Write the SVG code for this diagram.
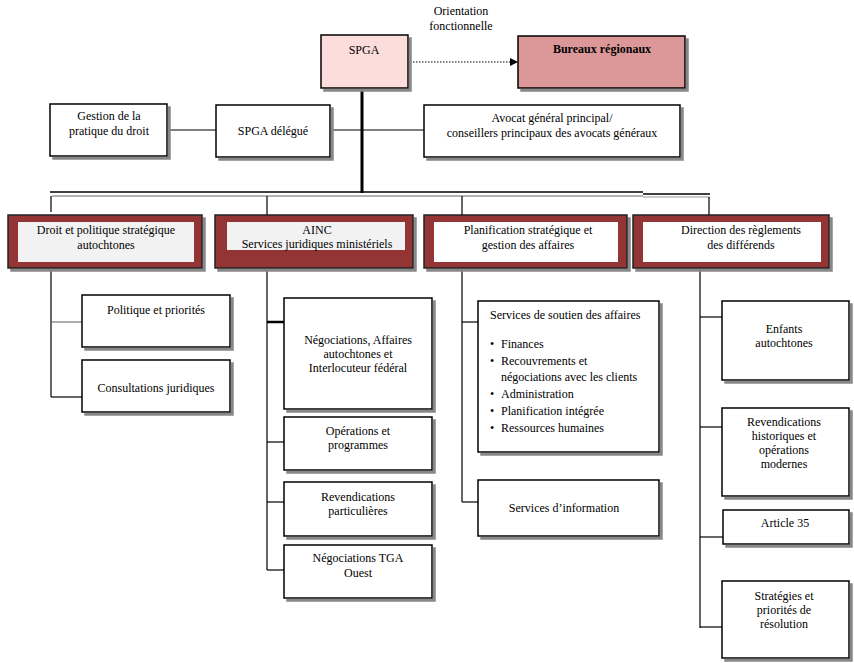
<svg xmlns="http://www.w3.org/2000/svg" width="854" height="663" viewBox="0 0 854 663">
<defs>
<marker id="ar" markerWidth="8" markerHeight="8" refX="7" refY="4" orient="auto" markerUnits="userSpaceOnUse"><path d="M0,0 L8,4 L0,8 Z" fill="#000"/></marker>
<filter id="sh" x="-5%" y="-5%" width="115%" height="130%"><feOffset dx="3" dy="3" in="SourceAlpha" result="o"/><feFlood flood-color="#888"/><feComposite in2="o" operator="in"/><feMerge><feMergeNode/><feMergeNode in="SourceGraphic"/></feMerge></filter>
</defs>
<style>
text{font-family:'Liberation Serif','DejaVu Serif','Times New Roman',serif;font-size:12px;fill:#000;text-anchor:middle}
.b{fill:#fff;stroke:#000;stroke-width:1.5;filter:url(#sh)}
.r{fill:#943634;stroke:#222;stroke-width:1.5;filter:url(#sh)}
.l{stroke:#000;stroke-width:1.2;fill:none}
.s{text-anchor:start}
</style>
<g id="connectors">
<line class="l" x1="410" y1="62" x2="517" y2="62" stroke-dasharray="1.5,1.5" marker-end="url(#ar)"/>
<line class="l" x1="362" y1="90" x2="362" y2="193" style="stroke-width:3"/>
<line class="l" x1="167" y1="130" x2="424" y2="130"/>
<line class="l" x1="50" y1="192" x2="643" y2="192" style="stroke-width:1.5"/>
<line x1="52" y1="196" x2="643" y2="196" stroke="#999" stroke-width="1.5"/>
<line class="l" x1="643" y1="194" x2="710" y2="194" style="stroke-width:1.5"/>
<line x1="643" y1="197" x2="710" y2="197" stroke="#999" stroke-width="1"/>
<line class="l" x1="51" y1="196" x2="51" y2="212"/>
<line class="l" x1="267" y1="196" x2="267" y2="215"/>
<line class="l" x1="462" y1="196" x2="462" y2="215"/>
<line class="l" x1="709" y1="197" x2="709" y2="215"/>
<line class="l" x1="51" y1="268" x2="51" y2="397"/>
<line x1="52" y1="322" x2="82" y2="322" stroke="#777" stroke-width="1.2"/>
<line class="l" x1="51" y1="397" x2="82" y2="397"/>
<line class="l" x1="267" y1="268" x2="267" y2="570"/>
<line class="l" x1="267" y1="322" x2="284" y2="322" style="stroke-width:2.5"/>
<line class="l" x1="267" y1="442" x2="284" y2="442"/>
<line class="l" x1="267" y1="502" x2="284" y2="502"/>
<line class="l" x1="267" y1="570" x2="284" y2="570"/>
<line class="l" x1="462" y1="268" x2="462" y2="502"/>
<line class="l" x1="462" y1="322" x2="478" y2="322"/>
<line class="l" x1="462" y1="502" x2="478" y2="502"/>
<line class="l" x1="700" y1="268" x2="700" y2="628"/>
<line class="l" x1="700" y1="317" x2="722" y2="317"/>
<line class="l" x1="700" y1="427" x2="722" y2="427"/>
<line class="l" x1="700" y1="537" x2="723" y2="537"/>
<line class="l" x1="700" y1="627" x2="722" y2="627"/>
</g>
<text x="461" y="15">Orientation</text>
<text x="461" y="30">fonctionnelle</text>
<g id="spga"><rect x="321" y="35" width="87" height="53" fill="#fddcdc" stroke="#000" stroke-width="1.5" filter="url(#sh)"/><text x="364" y="54">SPGA</text></g>
<g id="bureaux"><rect x="518" y="36" width="167" height="52" fill="#dc9898" stroke="#000" stroke-width="1.5" filter="url(#sh)"/><text x="602" y="53" font-weight="bold">Bureaux régionaux</text></g>
<g id="gestion"><rect class="b" x="50" y="104" width="117" height="52"/><text x="109" y="120">Gestion de la</text><text x="109" y="135">pratique du droit</text></g>
<g id="delegue"><rect class="b" x="216" y="105" width="114" height="52"/><text x="273" y="135">SPGA délégué</text></g>
<g id="avocat"><rect class="b" x="424" y="105" width="256" height="52"/><text x="552" y="122">Avocat général principal/</text><text x="552" y="137">conseillers principaux des avocats généraux</text></g>
<g id="droit"><rect class="r" x="8" y="215" width="194" height="53"/><rect x="18" y="222" width="176" height="40" fill="#f2f2f2"/><text x="106" y="234">Droit et politique stratégique</text><text x="106" y="249">autochtones</text></g>
<g id="ainc"><rect class="r" x="215" y="215" width="198" height="53"/><rect x="227" y="222" width="178" height="28" fill="#f2f2f2"/><text x="317" y="234">AINC</text><text x="317" y="248">Services juridiques ministériels</text></g>
<g id="planif"><rect class="r" x="424" y="215" width="203" height="53"/><rect x="434" y="222" width="184" height="40" fill="#fff"/><text x="528" y="234">Planification stratégique et</text><text x="528" y="249">gestion des affaires</text></g>
<g id="direction"><rect class="r" x="633" y="215" width="196" height="53"/><rect x="643" y="222" width="178" height="40" fill="#fff"/><text x="741" y="234">Direction des règlements</text><text x="741" y="249">des différends</text></g>
<g id="politique"><rect class="b" x="82" y="295" width="148" height="52"/><text x="156" y="314">Politique et priorités</text></g>
<g id="consult"><rect class="b" x="82" y="360" width="148" height="52"/><text x="156" y="392">Consultations juridiques</text></g>
<g id="nego"><rect class="b" x="284" y="298" width="148" height="111"/><text x="358" y="344">Négociations, Affaires</text><text x="358" y="358">autochtones et</text><text x="358" y="372">Interlocuteur fédéral</text></g>
<g id="oper"><rect class="b" x="284" y="417" width="148" height="53"/><text x="358" y="435">Opérations et</text><text x="358" y="449">programmes</text></g>
<g id="revpart"><rect class="b" x="284" y="482" width="148" height="54"/><text x="358" y="501">Revendications</text><text x="358" y="515">particulières</text></g>
<g id="tga"><rect class="b" x="284" y="545" width="148" height="53"/><text x="358" y="562">Négociations TGA</text><text x="358" y="577">Ouest</text></g>
<g id="soutien"><rect class="b" x="478" y="301" width="181" height="151"/>
<text class="s" x="490" y="319">Services de soutien des affaires</text>
<text class="s" x="490" y="348">•</text><text class="s" x="501" y="348">Finances</text>
<text class="s" x="490" y="365">•</text><text class="s" x="501" y="365">Recouvrements et</text>
<text class="s" x="501" y="381">négociations avec les clients</text>
<text class="s" x="490" y="398">•</text><text class="s" x="501" y="398">Administration</text>
<text class="s" x="490" y="415">•</text><text class="s" x="501" y="415">Planification intégrée</text>
<text class="s" x="490" y="432">•</text><text class="s" x="501" y="432">Ressources humaines</text></g>
<g id="info"><rect class="b" x="478" y="480" width="181" height="56"/><text x="564" y="512">Services d’information</text></g>
<g id="enfants"><rect class="b" x="722" y="301" width="127" height="79"/><text x="784" y="333">Enfants</text><text x="784" y="347">autochtones</text></g>
<g id="revhist"><rect class="b" x="722" y="408" width="127" height="88"/><text x="784" y="426">Revendications</text><text x="784" y="440">historiques et</text><text x="784" y="454">opérations</text><text x="784" y="468">modernes</text></g>
<g id="art35"><rect class="b" x="723" y="510" width="126" height="34"/><text x="785" y="527">Article 35</text></g>
<g id="strat"><rect class="b" x="722" y="581" width="127" height="77"/><text x="784" y="600">Stratégies et</text><text x="784" y="614">priorités de</text><text x="784" y="628">résolution</text></g>
</svg>
